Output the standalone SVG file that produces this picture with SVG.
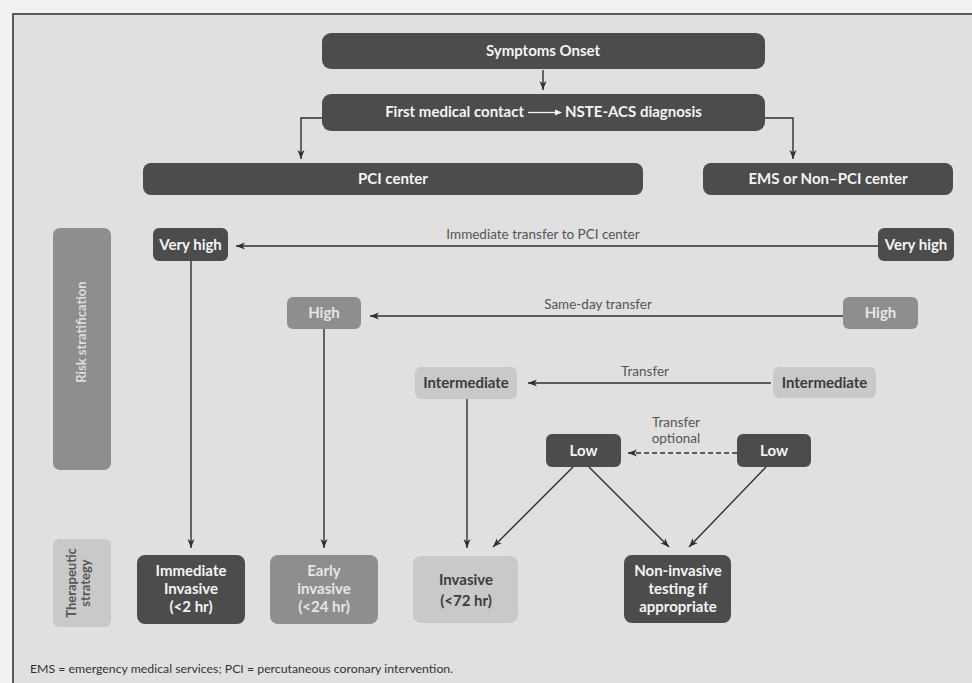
<svg xmlns="http://www.w3.org/2000/svg" width="972" height="683" viewBox="0 0 972 683">
<defs>
<marker id="ah" markerWidth="10" markerHeight="8" refX="9" refY="4" orient="auto" markerUnits="userSpaceOnUse">
<path d="M0,0.5 L9,4 L0,7.5 L2.5,4 Z" fill="#2f2f2f"/>
</marker>
<style>
.dark{fill:#4c4c4c}
.mid{fill:#8e8e8e}
.light{fill:#c9c9c9}
.t{font-family:Lato,"Liberation Sans",sans-serif;font-weight:bold;font-size:15px;text-anchor:middle}
.w{fill:#f4f4f4}
.mw{fill:#e6e6e6}
.d{fill:#3c3c3c}
.lbl{font-family:Lato,"Liberation Sans",sans-serif;font-size:13.5px;fill:#555;text-anchor:middle}
.c{stroke:#2f2f2f;stroke-width:1.4;fill:none}
</style>
</defs>
<rect x="0" y="0" width="972" height="683" fill="#f1f1f1"/>
<rect x="13" y="14" width="959" height="669" fill="#e0e0e0"/>
<path d="M13,683 V14 H972" stroke="#5a5a5a" stroke-width="2" fill="none"/>

<g id="connectors">
<line class="c" x1="543" y1="70" x2="543" y2="90" marker-end="url(#ah)"/>
<path class="c" d="M322,118 H301 V159" marker-end="url(#ah)"/>
<path class="c" d="M765,118 H793 V159" marker-end="url(#ah)"/>
<line class="c" x1="878" y1="246" x2="236" y2="246" marker-end="url(#ah)"/>
<line class="c" x1="843" y1="316" x2="370" y2="316" marker-end="url(#ah)"/>
<line class="c" x1="771" y1="383" x2="528" y2="383" marker-end="url(#ah)"/>
<line class="c" x1="737" y1="453" x2="628" y2="453" stroke-dasharray="5,3" marker-end="url(#ah)"/>
<line class="c" x1="191" y1="261" x2="191" y2="548" marker-end="url(#ah)"/>
<line class="c" x1="324" y1="329" x2="324" y2="548" marker-end="url(#ah)"/>
<line class="c" x1="467" y1="399" x2="467" y2="548" marker-end="url(#ah)"/>
<line class="c" x1="573" y1="467" x2="493" y2="547" marker-end="url(#ah)"/>
<line class="c" x1="589" y1="467" x2="669" y2="547" marker-end="url(#ah)"/>
<line class="c" x1="766" y1="467" x2="689" y2="547" marker-end="url(#ah)"/>
<text class="lbl" x="543" y="239">Immediate transfer to PCI center</text>
<text class="lbl" x="598" y="309">Same-day transfer</text>
<text class="lbl" x="645" y="376">Transfer</text>
<text class="lbl" x="676" y="427" font-size="13">Transfer</text>
<text class="lbl" x="676" y="443" font-size="13">optional</text>
</g>

<g id="symptoms">
<rect class="dark" x="322" y="33" width="443" height="36" rx="9"/>
<text class="t w" x="543" y="56">Symptoms Onset</text>
</g>
<g id="first-contact">
<rect class="dark" x="322" y="94" width="443" height="37" rx="9"/>
<text class="t w" x="524" y="117" style="text-anchor:end">First medical contact</text>
<line x1="528" y1="112.5" x2="557" y2="112.5" stroke="#f4f4f4" stroke-width="1.3"/>
<path d="M555,109.5 L562,112.5 L555,115.5 Z" fill="#f4f4f4"/>
<text class="t w" x="565" y="117" style="text-anchor:start">NSTE-ACS diagnosis</text>
</g>
<g id="pci-center">
<rect class="dark" x="143" y="163" width="500" height="32" rx="8"/>
<text class="t w" x="393" y="184">PCI center</text>
</g>
<g id="ems">
<rect class="dark" x="703" y="163" width="250" height="32" rx="8"/>
<text class="t w" x="828" y="184">EMS or Non–PCI center</text>
</g>

<g id="risk-stratification">
<rect class="mid" x="53" y="228" width="58" height="242" rx="7"/>
<text class="t" fill="#dedede" style="font-size:13px" transform="translate(86,332) rotate(-90)">Risk stratification</text>
</g>
<g id="therapeutic-strategy">
<rect class="light" x="53" y="539" width="58" height="88" rx="6"/>
<text class="t" fill="#555" style="font-size:13px" transform="translate(76,583) rotate(-90)">Therapeutic</text>
<text class="t" fill="#555" style="font-size:13px" transform="translate(90,583) rotate(-90)">strategy</text>
</g>

<g id="very-high-pci">
<rect class="dark" x="153" y="228" width="75" height="33" rx="6"/>
<text class="t w" x="190.5" y="250">Very high</text>
</g>
<g id="very-high-ems">
<rect class="dark" x="878" y="228" width="76" height="33" rx="6"/>
<text class="t w" x="916" y="250">Very high</text>
</g>
<g id="high-pci">
<rect class="mid" x="287" y="297" width="74" height="32" rx="6"/>
<text class="t mw" x="324" y="318">High</text>
</g>
<g id="high-ems">
<rect class="mid" x="843" y="297" width="75" height="32" rx="6"/>
<text class="t mw" x="880.5" y="318">High</text>
</g>
<g id="intermediate-pci">
<rect class="light" x="415" y="367" width="102" height="32" rx="6"/>
<text class="t d" x="466" y="388">Intermediate</text>
</g>
<g id="intermediate-ems">
<rect class="light" x="773" y="367" width="103" height="31" rx="6"/>
<text class="t d" x="824.5" y="388">Intermediate</text>
</g>
<g id="low-pci">
<rect class="dark" x="546" y="434" width="75" height="33" rx="6"/>
<text class="t w" x="583.5" y="456">Low</text>
</g>
<g id="low-ems">
<rect class="dark" x="737" y="434" width="74" height="33" rx="6"/>
<text class="t w" x="774" y="456">Low</text>
</g>

<g id="immediate-invasive">
<rect class="dark" x="137" y="555" width="108" height="69" rx="8"/>
<text class="t w" x="191" y="576">Immediate</text>
<text class="t w" x="191" y="594">Invasive</text>
<text class="t w" x="191" y="612">(&lt;2 hr)</text>
</g>
<g id="early-invasive">
<rect class="mid" x="270" y="555" width="108" height="69" rx="8"/>
<text class="t mw" x="324" y="576">Early</text>
<text class="t mw" x="324" y="594">invasive</text>
<text class="t mw" x="324" y="612">(&lt;24 hr)</text>
</g>
<g id="invasive">
<rect class="light" x="413" y="556" width="105" height="67" rx="8"/>
<text class="t d" x="466" y="585">Invasive</text>
<text class="t d" x="466" y="606">(&lt;72 hr)</text>
</g>
<g id="non-invasive">
<rect class="dark" x="624" y="555" width="107" height="68" rx="8"/>
<text class="t w" x="678" y="576">Non-invasive</text>
<text class="t w" x="678" y="594">testing if</text>
<text class="t w" x="678" y="612">appropriate</text>
</g>

<text x="30" y="673" font-family="Lato,'Liberation Sans',sans-serif" font-size="12.3" fill="#333">EMS = emergency medical services; PCI = percutaneous coronary intervention.</text>
</svg>
